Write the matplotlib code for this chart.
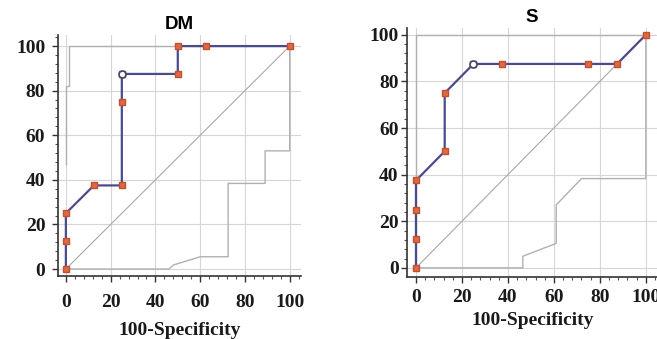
import matplotlib
matplotlib.use("Agg")
import matplotlib.pyplot as plt
from matplotlib.ticker import MultipleLocator

# ROC data (100-Specificity, Sensitivity)
dm_fpr = [0, 0, 0, 12.5, 25, 25, 25, 50, 50, 62.5, 100]
dm_tpr = [0, 12.5, 25, 37.5, 37.5, 75, 87.5, 87.5, 100, 100, 100]
dm_line_x = [0, 0, 12.5, 25, 25, 50, 50, 100]
dm_line_y = [0, 25, 37.5, 37.5, 87.5, 87.5, 100, 100]
dm_cut = (25, 87.5)
dm_upper_x = [0, 0, 1.5, 1.5, 100]
dm_upper_y = [47, 82, 82, 100, 100]
dm_lower_x = [0, 46, 48, 60, 72.5, 72.5, 89, 89, 100, 100]
dm_lower_y = [0, 0, 1.8, 5.5, 5.5, 38.4, 38.4, 53, 53, 100]

s_fpr = [0, 0, 0, 0, 12.5, 12.5, 25, 37.5, 75, 87.5, 100]
s_tpr = [0, 12.5, 25, 37.5, 50, 75, 87.5, 87.5, 87.5, 87.5, 100]
s_line_x = [0, 0, 12.5, 12.5, 25, 87.5, 100]
s_line_y = [0, 37.5, 50, 75, 87.5, 87.5, 100]
s_cut = (25, 87.5)
s_upper_x = [0, 0, 100]
s_upper_y = [0, 100, 100]
s_lower_x = [0, 46.5, 46.5, 61, 61, 72, 100, 100]
s_lower_y = [0, 0, 5, 10.5, 27, 38.3, 38.3, 100]

ticks = [0, 20, 40, 60, 80, 100]

line_col = "#4b4b8c"
mark_col = "#dd6a45"
ci_col = "#b0b0b0"

fig = plt.figure(figsize=(6.57, 3.39), dpi=100)


def roc_panel(rect, title, fx, fy, lx, ly, cut, ux, uy, wx, wy, xlim, ylim,
              xpad, ypad, xlabel_pad):
    ax = fig.add_axes(rect)
    ax.set_xlim(*xlim)
    ax.set_ylim(*ylim)
    ax.set_xticks(ticks)
    ax.set_yticks(ticks)
    ax.xaxis.set_minor_locator(MultipleLocator(4))
    ax.yaxis.set_minor_locator(MultipleLocator(4))
    ax.grid(True, color="#d6d6d6", linewidth=0.8)
    ax.set_axisbelow(True)
    for s in ["top", "right"]:
        ax.spines[s].set_visible(False)
    for s in ["left", "bottom"]:
        ax.spines[s].set_color("#333333")
        ax.spines[s].set_linewidth(1.2)
    ax.tick_params(which="major", length=4, width=1, color="#333333")
    ax.tick_params(which="minor", length=2, width=0.8, color="#555555")
    ax.tick_params(axis="x", pad=xpad)
    ax.tick_params(axis="y", pad=ypad)
    for lab in ax.get_xticklabels() + ax.get_yticklabels():
        lab.set_fontfamily("Liberation Serif")
        lab.set_fontweight("bold")
        lab.set_fontsize(14)
        lab.set_color("#1a1a1a")

    ax.plot([0, 100], [0, 100], color="#a8a8a8", linewidth=0.8)
    ax.plot(ux, uy, color=ci_col, linewidth=1.0)
    ax.plot(wx, wy, color=ci_col, linewidth=1.0)
    ax.plot(lx, ly, color=line_col, linewidth=1.6, zorder=3)
    ax.plot(fx, fy, linestyle="none", marker="s", markersize=4.6,
            markerfacecolor=mark_col, markeredgecolor="#c05030", zorder=4,
            clip_on=False)
    ax.plot([cut[0]], [cut[1]], linestyle="none", marker="o", markersize=5,
            markerfacecolor="white", markeredgecolor="#444466",
            markeredgewidth=1.2, zorder=5)
    ax.set_title(title, fontfamily="Liberation Sans", fontweight="bold",
                 fontsize=13.5, pad=4)
    ax.set_xlabel("100-Specificity", fontfamily="Liberation Serif",
                  fontweight="bold", fontsize=14, labelpad=xlabel_pad,
                  color="#1a1a1a")
    return ax


roc_panel([0.088, 0.186, 0.370, 0.711], "DM", dm_fpr, dm_tpr, dm_line_x,
          dm_line_y, dm_cut, dm_upper_x, dm_upper_y, dm_lower_x, dm_lower_y,
          (-3.6, 105), (-3.1, 105), 9, 5, 8)
roc_panel([0.6195, 0.183, 0.381, 0.735], "S", s_fpr, s_tpr, s_line_x,
          s_line_y, s_cut, s_upper_x, s_upper_y, s_lower_x, s_lower_y,
          (-3.9, 105), (-3.9, 103), 5, 2, 4)

fig.savefig("out.png", dpi=100)
